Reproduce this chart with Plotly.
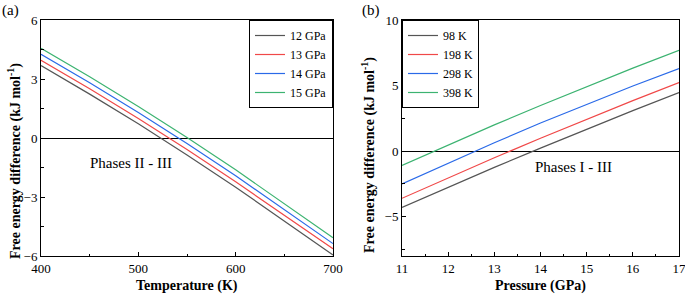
import plotly.graph_objects as go

# Panel (a): free energy difference vs temperature
temperature = [400, 450, 500, 550, 600, 650, 700]
a_names = ["12 GPa", "13 GPa", "14 GPa", "15 GPa"]
a_12 = [3.68, 2.23, 0.72, -0.86, -2.50, -4.21, -5.95]
a_13 = [3.95, 2.50, 0.99, -0.59, -2.23, -3.94, -5.63]
a_14 = [4.26, 2.81, 1.30, -0.28, -1.92, -3.63, -5.37]
a_15 = [4.56, 3.11, 1.60, 0.02, -1.62, -3.33, -5.07]

# Panel (b): free energy difference vs pressure
pressure = [11, 12, 13, 14, 15, 16, 17]
b_names = ["98 K", "198 K", "298 K", "398 K"]
b_98 = [-4.29, -2.75, -1.24, 0.23, 1.68, 3.09, 4.47]
b_198 = [-3.60, -2.04, -0.51, 0.98, 2.43, 3.85, 5.23]
b_298 = [-2.51, -0.91, 0.64, 2.14, 3.58, 4.97, 6.30]
b_398 = [-1.09, 0.47, 2.00, 3.48, 4.92, 6.33, 7.69]

colors = ["#555555", "#f04848", "#2a6ae8", "#3cb371"]
FONT = "Liberation Serif"

fig = go.Figure()
for name, ys, c in zip(a_names, [a_12, a_13, a_14, a_15], colors):
    fig.add_trace(go.Scatter(x=temperature, y=ys, name=name, mode="lines",
                             line=dict(color=c, width=1.2), xaxis="x", yaxis="y",
                             legend="legend"))
for name, ys, c in zip(b_names, [b_98, b_198, b_298, b_398], colors):
    fig.add_trace(go.Scatter(x=pressure, y=ys, name=name, mode="lines",
                             line=dict(color=c, width=1.2), xaxis="x2", yaxis="y2",
                             legend="legend2"))

W, H = 685, 295
ax_common = dict(showline=True, linecolor="black", linewidth=1, mirror=True,
                 ticks="inside", ticklen=4, tickwidth=1, tickcolor="black",
                 showgrid=False, tickfont=dict(family=FONT, size=13, color="black"),
                 automargin=False, ticklabeloverflow="allow",
                 minor=dict(ticks="inside", ticklen=2.5, tickwidth=1, tickcolor="black"))
ydom = [39 / H, 275 / H]

leg_common = dict(bordercolor="black", borderwidth=1, bgcolor="white",
                  font=dict(family=FONT, size=12, color="black"),
                  tracegroupgap=0, itemwidth=30)

fig.update_layout(
    width=W, height=H, margin=dict(l=0, r=0, t=0, b=0, autoexpand=False),
    paper_bgcolor="white", plot_bgcolor="white",
    font=dict(family=FONT, size=13, color="black"),
    xaxis=dict(domain=[41 / W, 333 / W], range=[400, 700], tickvals=[400, 500, 600, 700],
               anchor="y", **ax_common),
    yaxis=dict(domain=ydom, range=[-6, 6], tickvals=[-6, -3, 0, 3, 6], anchor="x",
               zeroline=True, zerolinecolor="black", zerolinewidth=1.2, **ax_common),
    xaxis2=dict(domain=[402 / W, 679 / W], range=[11, 17], tickvals=list(range(11, 18)),
                anchor="y2", **ax_common),
    yaxis2=dict(domain=ydom, range=[-8, 10], tickvals=[-5, 0, 5, 10], anchor="x2",
                zeroline=True, zerolinecolor="black", zerolinewidth=1.2, **ax_common),
    legend=dict(x=333 / W, xanchor="right", y=275 / H, yanchor="top", **leg_common),
    legend2=dict(x=402 / W, xanchor="left", y=275 / H, yanchor="top", **leg_common),
    showlegend=True,
)

fig.layout.xaxis.minor.tickvals = [450, 550, 650]
fig.layout.yaxis.minor.tickvals = [-4.5, -1.5, 1.5, 4.5]
fig.layout.xaxis2.minor.tickvals = [11.5, 12.5, 13.5, 14.5, 15.5, 16.5]
fig.layout.yaxis2.minor.tickvals = [-7.5, -2.5, 2.5, 7.5]

ann = [
    dict(text="(a)", x=0 / W, y=1 - 11 / H, xanchor="left", font=dict(size=15)),
    dict(text="(b)", x=360 / W, y=1 - 11 / H, xanchor="left", font=dict(size=15)),
    dict(text="Phases II - III", x=131 / W, y=1 - 163 / H, font=dict(size=15)),
    dict(text="Phases I - III", x=573 / W, y=1 - 167 / H, font=dict(size=15)),
    dict(text="<b>Temperature (K)</b>", x=187 / W, y=1 - 286 / H, font=dict(size=14)),
    dict(text="<b>Pressure (GPa)</b>", x=540 / W, y=1 - 286 / H, font=dict(size=14)),
    dict(text="<b>Free energy difference (kJ mol<sup>-1</sup>)</b>", x=15 / W, y=1 - 161 / H,
         textangle=-90, font=dict(size=14)),
    dict(text="<b>Free energy difference (kJ mol<sup>-1</sup>)</b>", x=368 / W, y=1 - 155 / H,
         textangle=-90, font=dict(size=14)),
]
for a in ann:
    a.setdefault("xanchor", "center")
    a["font"] = dict(family=FONT, color="black", **a["font"])
    fig.add_annotation(xref="paper", yref="paper", showarrow=False, yanchor="middle", **a)

fig.write_html("out.html", config={"displayModeBar": False},
               post_script="document.body.style.margin='0';")
